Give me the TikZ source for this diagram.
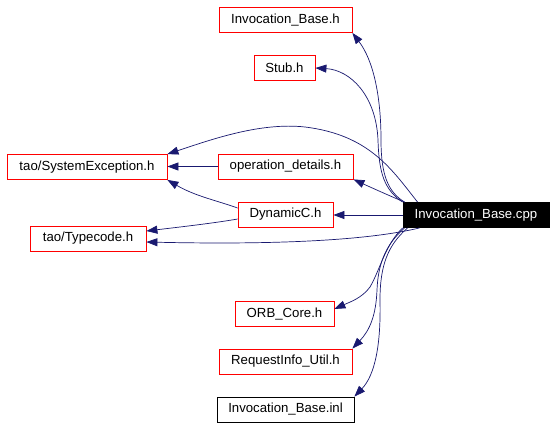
\documentclass[tikz,border=0pt]{standalone}
\usepackage{fontspec}
\setmainfont{Liberation Sans}
\usetikzlibrary{arrows.meta}
\definecolor{edgec}{RGB}{25,25,112}
\begin{document}
\begin{tikzpicture}[x=1pt,y=-1pt,
  box/.style={draw=red, line width=0.8pt, inner sep=0pt, minimum height=25pt,
    font=\fontsize{13.2}{15}\selectfont},
  blackbox/.style={box, draw=black},
  mainbox/.style={box, draw=black, fill=black, text=white},
  edge/.style={draw=edgec, line width=0.7pt, -{Triangle[length=11pt,width=8pt]}}]
\useasboundingbox (0,0) rectangle (556,428);
\fill[white] (0,0) rectangle (556,428);
\node[box, minimum width=133pt] (ibh) at (285.5,20) {Invocation\_Base.h};
\node[box, minimum width=61pt] (stub) at (284.5,68) {Stub.h};
\node[box, minimum width=160pt] (sysex) at (87,167) {tao/SystemException.h};
\node[box, minimum width=135pt] (opdet) at (285.5,166.5) {operation\_details.h};
\node[box, minimum width=95pt] (dyn) at (285.5,214.5) {DynamicC.h};
\node[mainbox, minimum width=146pt] (cpp) at (476,215) {Invocation\_Base.cpp};
\node[box, minimum width=116pt] (tc) at (88,238.5) {tao/Typecode.h};
\node[box, minimum width=99pt] (orb) at (284.5,314) {ORB\_Core.h};
\node[box, minimum width=133pt] (rq) at (285.5,361.5) {RequestInfo\_Util.h};
\node[blackbox, minimum width=137pt] (inl) at (285.5,409.5) {Invocation\_Base.inl};

\draw[edge] ([xshift=2pt]cpp.north west) .. controls (388,192) and (381,175) .. (381,140)
  .. controls (381,95) and (373,60) .. (ibh.south east);
\draw[edge] ([xshift=0pt]cpp.north west) .. controls (385,190) and (379,175) .. (378,140)
  .. controls (376,95) and (350,70) .. (stub.east);
\draw[edge] ([xshift=15pt]cpp.north west) .. controls (392,170) and (370,135) .. (305,127)
  .. controls (260,122) and (210,140) .. (sysex.north east);
\draw[edge] ([xshift=2pt]cpp.north west) .. controls (390,196) and (370,187) .. (opdet.south east);
\draw[edge] (opdet.west) -- (opdet.west -| sysex.east);
\draw[edge] ([yshift=6.5pt]dyn.west) .. controls (215,200) and (195,196) .. (sysex.south east);
\draw[edge] (cpp.west) -- (cpp.west -| dyn.east);
\draw[edge] ([yshift=-4.5pt]dyn.west) .. controls (215,223) and (180,227) .. ([yshift=7.5pt]tc.east);
\draw[edge] ([xshift=17pt]cpp.south west) .. controls (370,240) and (280,245) .. ([yshift=-3.5pt]tc.east);
\draw[edge] (cpp.south west) .. controls (385,245) and (380,270) .. (370,287)
  .. controls (362,298) and (350,302) .. ([yshift=5pt]orb.east);
\draw[edge] ([xshift=2pt]cpp.south west) .. controls (385,245) and (378,265) .. (377,290)
  .. controls (376,315) and (370,330) .. (rq.north east);
\draw[edge] ([xshift=5pt]cpp.south west) .. controls (388,245) and (380,265) .. (380,300)
  .. controls (381,345) and (375,375) .. (inl.north east);
\end{tikzpicture}
\end{document}
